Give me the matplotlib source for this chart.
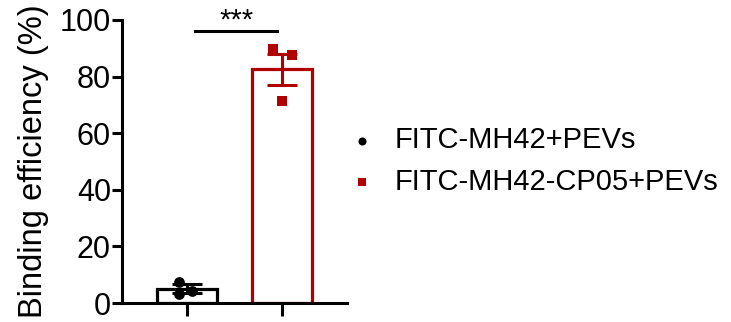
import matplotlib
matplotlib.use("Agg")
import matplotlib.pyplot as plt
import numpy as np

plt.rcParams['font.family'] = ['Liberation Sans', 'DejaVu Sans']

groups = ["FITC-MH42+PEVs", "FITC-MH42-CP05+PEVs"]
colors = ["#000000", "#B00000"]
means = [5.0, 82.5]
sems = [1.6, 5.5]
points_g1 = [7.5, 3.3, 4.3]
points_g2 = [89.8, 87.6, 71.4]
points_x_off_g1 = [-0.09, -0.09, 0.05]
points_x_off_g2 = [-0.1, 0.1, 0.0]
yticks = [0, 20, 40, 60, 80, 100]
ylabel = "Binding efficiency (%)"
sig_text = "***"

fig = plt.figure(figsize=(7.31, 3.22), dpi=100)
ax = fig.add_axes([0.167, 0.059, 0.308, 0.879])

x = np.arange(len(groups))
for i in range(len(groups)):
    ax.bar(x[i], means[i], width=0.63, facecolor='white', edgecolor=colors[i], linewidth=2.3, zorder=2)
    ax.errorbar(x[i], means[i], yerr=sems[i], color=colors[i], capsize=10.5, capthick=2.2, elinewidth=2.2, zorder=3)

ax.scatter(x[0] + np.array(points_x_off_g1), points_g1, marker='o', s=60, color=colors[0], zorder=4, label=groups[0], linewidths=0)
ax.scatter(x[1] + np.array(points_x_off_g2), points_g2, marker='s', s=50, color=colors[1], zorder=4, label=groups[1], linewidths=0)

ax.set_xlim(-0.684, 1.684)
ax.set_ylim(0, 100)
ax.set_yticks(yticks)
ax.set_xticks(x)
ax.set_xticklabels([])
ax.tick_params(axis='y', labelsize=22, width=2.2, length=7, pad=1)
ax.tick_params(axis='x', width=2.2, length=9)
for s in ['top', 'right']:
    ax.spines[s].set_visible(False)
for s in ['left', 'bottom']:
    ax.spines[s].set_linewidth(2.2)
ax.set_ylabel(ylabel, fontsize=23.5, labelpad=8)

ax.plot([0.084, 0.947], [96.1, 96.1], color='black', lw=2.2, clip_on=False)
ax.text(0.515, 94.9, sig_text, ha='center', va='bottom', fontsize=21)

h, l = ax.get_legend_handles_labels()
fig.legend(h, l, loc='center left', bbox_to_anchor=(0.436, 0.5), frameon=False, fontsize=21,
           handletextpad=0.5, labelspacing=0.45, markerscale=0.75, handlelength=1.2)

fig.savefig("out.png", dpi=100)
